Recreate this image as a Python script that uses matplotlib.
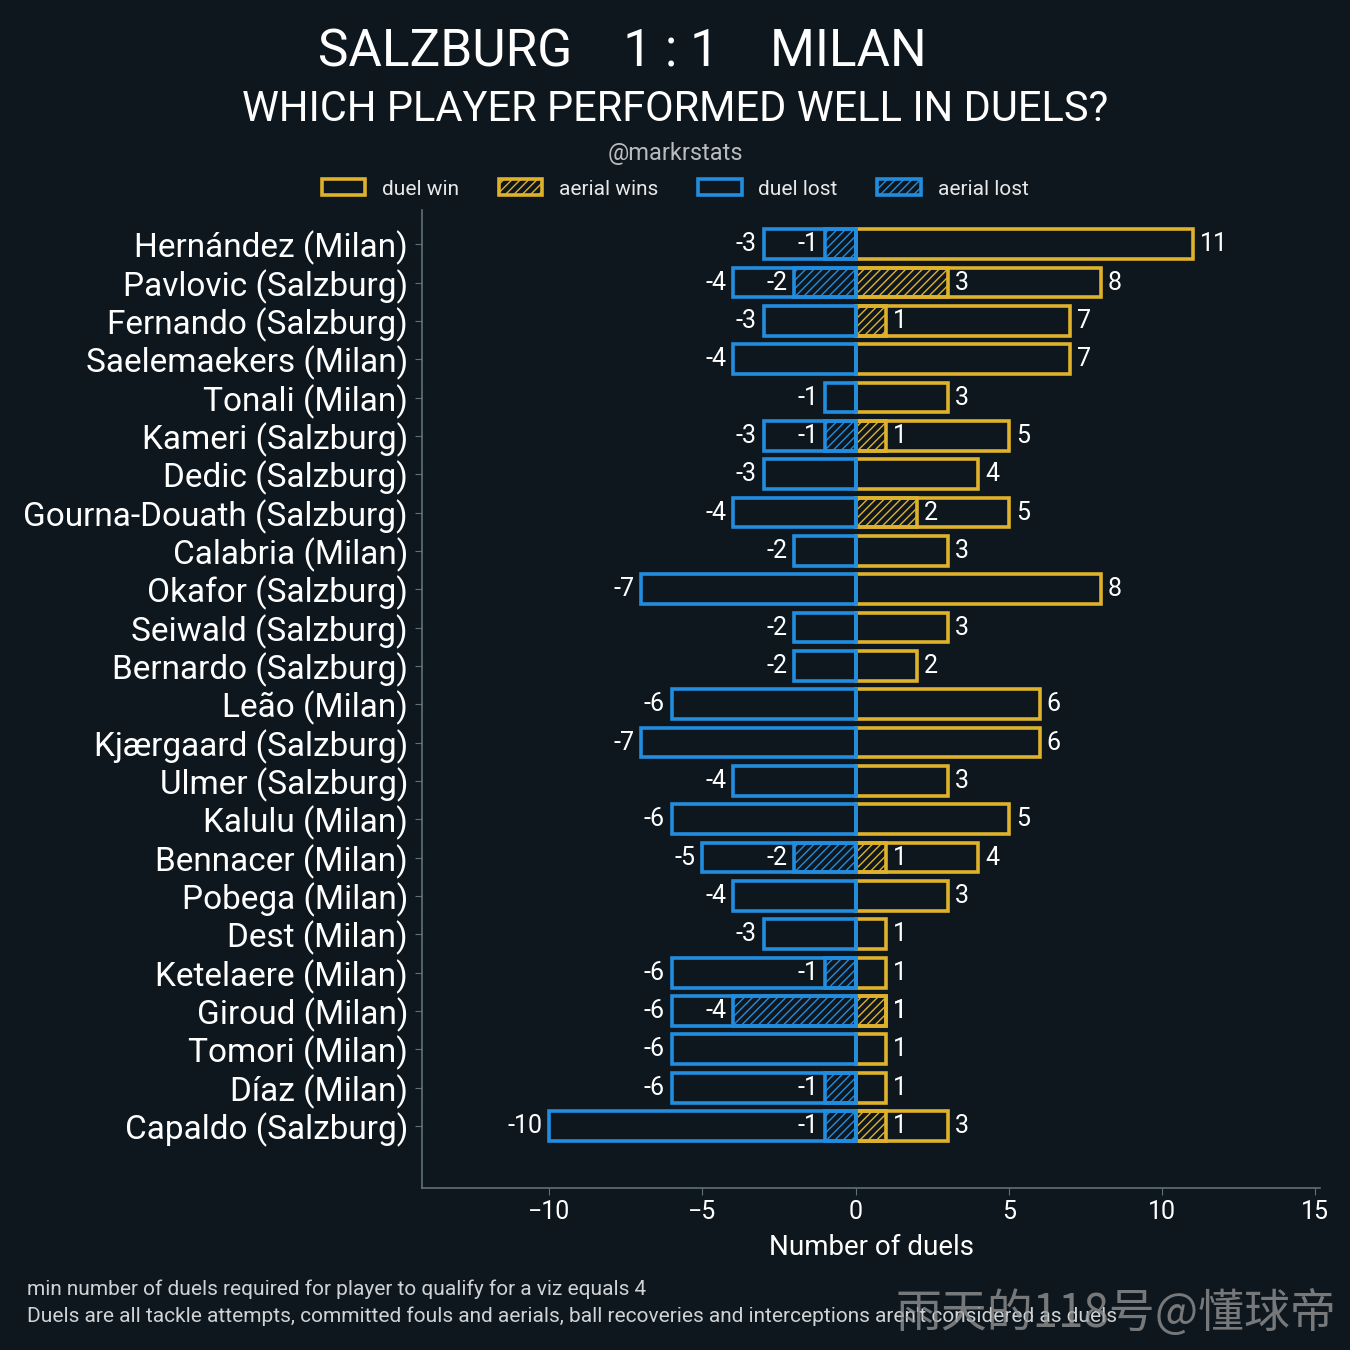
import matplotlib.pyplot as plt
from matplotlib.patches import Patch

plt.rcParams['font.family'] = ['Roboto', 'DejaVu Sans']
plt.rcParams['hatch.linewidth'] = 1.0

players = ['Hernández (Milan)', 'Pavlovic (Salzburg)', 'Fernando (Salzburg)', 'Saelemaekers (Milan)',
           'Tonali (Milan)', 'Kameri (Salzburg)', 'Dedic (Salzburg)', 'Gourna-Douath (Salzburg)',
           'Calabria (Milan)', 'Okafor (Salzburg)', 'Seiwald (Salzburg)', 'Bernardo (Salzburg)',
           'Leão (Milan)', 'Kjærgaard (Salzburg)', 'Ulmer (Salzburg)', 'Kalulu (Milan)',
           'Bennacer (Milan)', 'Pobega (Milan)', 'Dest (Milan)', 'Ketelaere (Milan)',
           'Giroud (Milan)', 'Tomori (Milan)', 'Díaz (Milan)', 'Capaldo (Salzburg)']
duel_win = [11, 8, 7, 7, 3, 5, 4, 5, 3, 8, 3, 2, 6, 6, 3, 5, 4, 3, 1, 1, 1, 1, 1, 3]
aerial_win = [0, 3, 1, 0, 0, 1, 0, 2, 0, 0, 0, 0, 0, 0, 0, 0, 1, 0, 0, 0, 1, 0, 0, 1]
duel_lost = [-3, -4, -3, -4, -1, -3, -3, -4, -2, -7, -2, -2, -6, -7, -4, -6, -5, -4, -3, -6, -6, -6, -6, -10]
aerial_lost = [-1, -2, 0, 0, 0, -1, 0, 0, 0, 0, 0, 0, 0, 0, 0, 0, -2, 0, 0, -1, -4, 0, -1, -1]

bg = '#0e171e'
gold = '#dfb22c'
blue = '#228ddf'
spine_col = '#5f7178'

fig = plt.figure(figsize=(13.5, 13.5), dpi=100, facecolor=bg)
ax = fig.add_axes([0.3126, 0.12, 0.6652, 0.7244])
ax.set_facecolor(bg)

y = list(range(len(players)))
h = 0.78
lw = 2.6

def labels_for(vals):
    return [str(v) if v != 0 else '' for v in vals]

b1 = ax.barh(y, duel_win, height=h, facecolor='none', edgecolor=gold, linewidth=lw)
b2 = ax.barh(y, aerial_win, height=h, facecolor='none', edgecolor=gold, linewidth=lw, hatch='////')
b3 = ax.barh(y, duel_lost, height=h, facecolor='none', edgecolor=blue, linewidth=lw)
b4 = ax.barh(y, aerial_lost, height=h, facecolor='none', edgecolor=blue, linewidth=lw, hatch='////')

for c, vals in [(b1, duel_win), (b2, aerial_win), (b3, duel_lost), (b4, aerial_lost)]:
    ax.bar_label(c, labels=labels_for(vals), padding=5, color='white', fontsize=18)

ax.set_yticks(y)
ax.set_yticklabels(players, fontsize=24, color='white')
ax.set_ylim(len(players) - 1 + 1.62, -0.89)
ax.set_xlim(-14.15, 15.15)
ax.set_xticks([-10, -5, 0, 5, 10, 15])
ax.set_xticklabels(['\u221210', '\u22125', '0', '5', '10', '15'])
ax.tick_params(axis='x', colors=spine_col, labelcolor='white', labelsize=18, length=5)
ax.tick_params(axis='y', colors=spine_col, labelcolor='white', length=5, pad=5)
ax.set_xlabel('Number of duels', color='white', fontsize=20, labelpad=7)

for s in ['top', 'right']:
    ax.spines[s].set_visible(False)
for s in ['left', 'bottom']:
    ax.spines[s].set_color(spine_col)
    ax.spines[s].set_linewidth(1.2)

fig.text(0.461, 0.961, 'SALZBURG    1 : 1    MILAN', ha='center', va='center', color='white', fontsize=37)
fig.text(0.5, 0.919, 'WHICH PLAYER PERFORMED WELL IN DUELS?', ha='center', va='center', color='white', fontsize=30)
fig.text(0.5, 0.886, '@markrstats', ha='center', va='center', color='#b9bcbe', fontsize=17)

handles = [Patch(facecolor='none', edgecolor=gold, linewidth=lw, label='duel win'),
           Patch(facecolor='none', edgecolor=gold, linewidth=lw, hatch='////', label='aerial wins'),
           Patch(facecolor='none', edgecolor=blue, linewidth=lw, label='duel lost'),
           Patch(facecolor='none', edgecolor=blue, linewidth=lw, hatch='////', label='aerial lost')]
leg = fig.legend(handles=handles, loc='center', bbox_to_anchor=(0.5, 0.86), ncol=4, frameon=False,
                 fontsize=15, handlelength=2.1, handleheight=0.8, columnspacing=1.9, handletextpad=0.8)
for t in leg.get_texts():
    t.set_color('#e8e8e8')

fig.text(0.02, 0.045, 'min number of duels required for player to qualify for a viz equals 4',
         color='#d0d3d5', fontsize=15, va='center')
fig.text(0.02, 0.025, 'Duels are all tackle attempts, committed fouls and aerials, ball recoveries and '
         'interceptions aren\'t considered as duels', color='#d0d3d5', fontsize=15, va='center')
fig.text(0.99, 0.027, '雨天的118号@懂球帝', ha='right', va='center', color='#9a9a9a', alpha=0.75,
         fontsize=33, family=['Noto Sans CJK SC', 'DejaVu Sans'])

fig.savefig('out.png', dpi=100, facecolor=bg)
